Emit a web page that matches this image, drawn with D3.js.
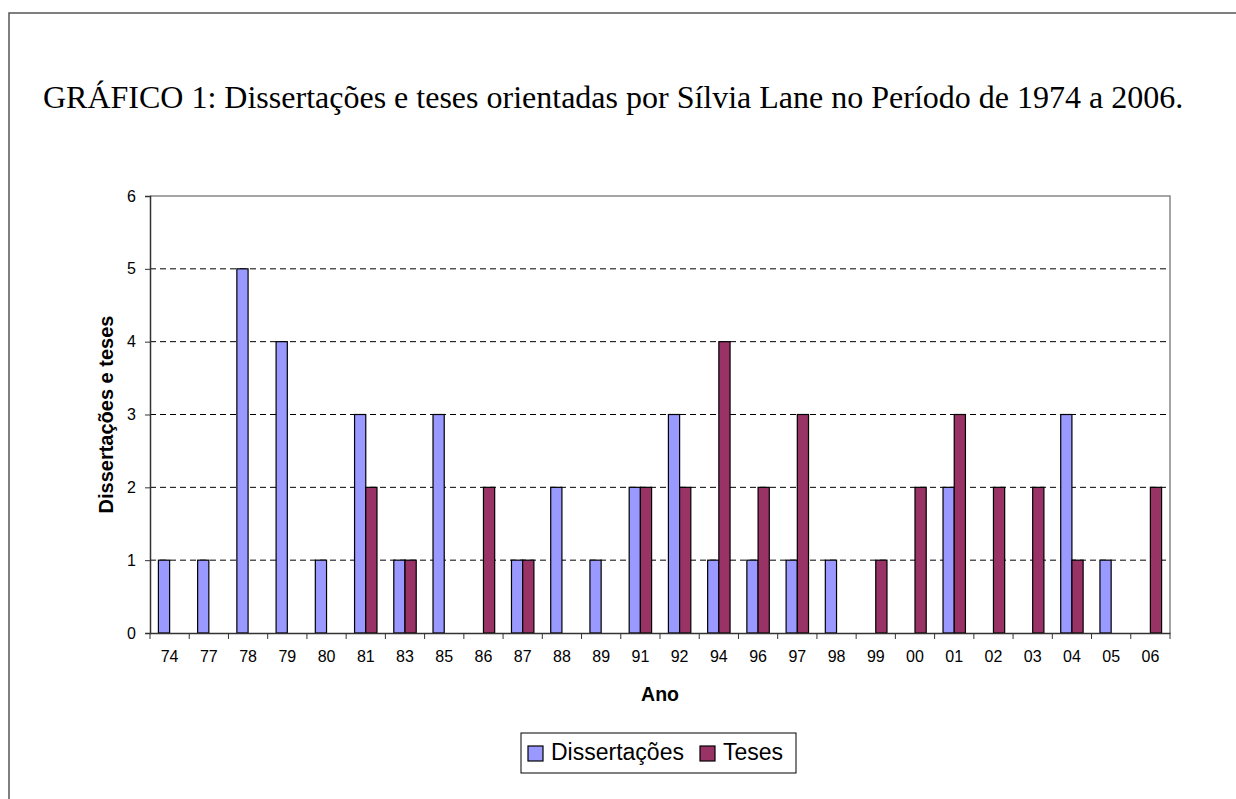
<!DOCTYPE html>
<html>
<head>
<meta charset="utf-8">
<script src="https://cdn.jsdelivr.net/npm/d3@7"></script>
<style>
  body { margin: 0; background: #fff; }
  svg { display: block; }
</style>
</head>
<body>
<div id="chart"></div>
<script>
var WIDTH = 1236
var HEIGHT = 799

// data
var anos = ["74","77","78","79","80","81","83","85","86","87","88","89","91","92","94","96","97","98","99","00","01","02","03","04","05","06"]
var dissertacoes = [1,1,5,4,1,3,1,3,0,1,2,1,2,3,1,1,1,1,0,0,2,0,0,3,1,0]
var teses = [0,0,0,0,0,2,1,0,2,1,0,0,2,2,4,2,3,0,1,2,3,2,2,1,0,2]
var series = ["Dissertações","Teses"]
var colors = ["#9999ff","#993366"]
var yTicks = [0,1,2,3,4,5,6]

var sans = "Liberation Sans, Arial, sans-serif"

var svg = d3.select("#chart").append("svg")
  .attr("width", WIDTH)
  .attr("height", HEIGHT)

// outer frame (runs off the bottom/right of the picture)
svg.append("rect")
  .attr("x", 9).attr("y", 13)
  .attr("width", WIDTH + 20).attr("height", HEIGHT + 20)
  .attr("fill", "none")
  .attr("stroke", "#555")
  .attr("stroke-width", 1.5)

svg.append("text")
  .attr("x", 43).attr("y", 108)
  .attr("font-family", "Liberation Serif, Times New Roman, serif")
  .attr("font-size", 32)
  .attr("fill", "#000")
  .text("GRÁFICO 1: Dissertações e teses orientadas por Sílvia Lane no Período de 1974 a 2006.")

var pl = 150, pr = 1170, pt = 196, pb = 633

var x = d3.scaleBand().domain(anos).range([pl, pr])
var y = d3.scaleLinear().domain([0, 6]).range([pb, pt])
var bw = x.bandwidth() / 3.5

// gridlines
svg.selectAll(".grid")
  .data(yTicks.filter(function(d){ return d > 0 && d < 6 }))
  .enter().append("line")
  .attr("x1", pl).attr("x2", pr)
  .attr("y1", function(d){ return y(d) }).attr("y2", function(d){ return y(d) })
  .attr("stroke", "#000")
  .attr("stroke-width", 1)
  .attr("stroke-dasharray", "6,4")

// plot border top/right
svg.append("path")
  .attr("d", "M" + pl + "," + pt + "H" + pr + "V" + pb)
  .attr("fill", "none")
  .attr("stroke", "#888")
  .attr("stroke-width", 1.5)

// bars
var rows = anos.map(function(a, i){ return {ano: a, vals: [dissertacoes[i], teses[i]]} })
var g = svg.selectAll(".ano").data(rows).enter().append("g")
g.selectAll("rect")
  .data(function(d){ return d.vals.map(function(v, k){ return {ano: d.ano, v: v, k: k} }) })
  .enter().filter(function(d){ return d.v > 0 })
  .append("rect")
  .attr("x", function(d){ return x(d.ano) + x.bandwidth() / 2 - bw + d.k * bw })
  .attr("y", function(d){ return y(d.v) })
  .attr("width", bw)
  .attr("height", function(d){ return pb - y(d.v) })
  .attr("fill", function(d){ return colors[d.k] })
  .attr("stroke", "#000")
  .attr("stroke-width", 1.2)

// y axis
var yAxis = svg.append("g")
  .attr("transform", "translate(" + pl + ",0)")
  .call(d3.axisLeft(y).tickValues(yTicks).tickFormat(d3.format("d")).tickSize(5).tickPadding(9))
yAxis.select(".domain").attr("stroke", "#333").attr("stroke-width", 1.5)
yAxis.selectAll(".tick line").attr("stroke", "#333")
yAxis.selectAll("text").attr("font-family", sans).attr("font-size", 16).attr("fill", "#000")

// x axis with ticks between categories
var xAxis = svg.append("g")
  .attr("transform", "translate(0," + pb + ")")
  .call(d3.axisBottom(x).tickSize(0).tickPadding(18))
xAxis.select(".domain").attr("stroke", "#333").attr("stroke-width", 1.5)
xAxis.selectAll("text").attr("font-family", sans).attr("font-size", 16).attr("fill", "#000")
xAxis.selectAll(".sep")
  .data(anos.concat(["end"]))
  .enter().append("line")
  .attr("x1", function(d, i){ return pl + i * x.step() })
  .attr("x2", function(d, i){ return pl + i * x.step() })
  .attr("y1", 0).attr("y2", 6)
  .attr("stroke", "#333")

// axis titles
svg.append("text")
  .attr("x", (pl + pr) / 2).attr("y", 701)
  .attr("text-anchor", "middle")
  .attr("font-family", sans)
  .attr("font-size", 19.5).attr("font-weight", "bold")
  .text("Ano")

svg.append("text")
  .attr("transform", "translate(113," + ((pt + pb) / 2) + ") rotate(-90)")
  .attr("text-anchor", "middle")
  .attr("font-family", sans)
  .attr("font-size", 20).attr("font-weight", "bold")
  .text("Dissertações e teses")

// legend
var lg = svg.append("g").attr("transform", "translate(521,733)")
lg.append("rect")
  .attr("width", 275).attr("height", 40)
  .attr("fill", "#fff").attr("stroke", "#000").attr("stroke-width", 1)
var lx = [7, 179]
series.forEach(function(s, k){
  lg.append("rect")
    .attr("x", lx[k]).attr("y", 13)
    .attr("width", 15).attr("height", 15)
    .attr("fill", colors[k]).attr("stroke", "#000").attr("stroke-width", 1.2)
  lg.append("text")
    .attr("x", lx[k] + 23).attr("y", 27)
    .attr("font-family", sans)
    .attr("font-size", 23)
    .text(s)
})
</script>
</body>
</html>
